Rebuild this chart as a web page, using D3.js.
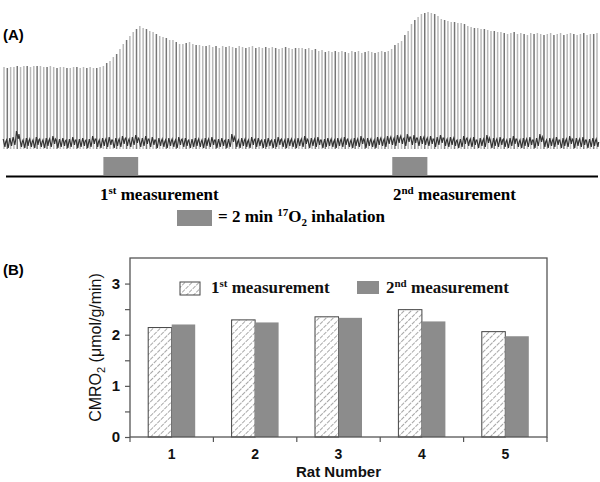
<!DOCTYPE html>
<html><head><meta charset="utf-8">
<script src="https://cdn.jsdelivr.net/npm/d3@7"></script>
<style>body{margin:0;background:#fff}svg{display:block}</style>
</head><body>
<script>
// ---------- Panel A data ----------
const peaks = [
81,80,81,81,82,81,82,82,81,82, 82,82,81,81,82,81,80,81,81,80,
80,81,81,80,81,80,81,80,80,81, 82,85,87,91,94,99,104,108,112,116,
119,122,120,119,117,116,114,112,111,110, 108,108,106,104,104,105,106,104,103,103,
102,102,103,101,102,100,102,101,102,101, 100,102,101,100,101,102,100,101,100,101,
100,101,100,99,100,101,100,99,100,100, 100,99,100,98,99,97,98,96,97,96,
97,96,97,96,95,97,96,97,95,96, 97,96,95,96,97,96,97,99,103,105,
107,113,117,124,128,131,134,135,136,135, 134,132,129,128,127,126,126,125,125,124,
122,121,120,120,119,119,118,117,117,116, 116,115,114,115,116,114,115,114,113,115,
114,115,114,113,114,115,113,114,115,113, 114,115,114,113,114,115,113,114,114,115];
const notch = [
9,8,10,11,17,9,8,10,9,8, 11,9,8,10,9,12,8,9,10,8,
9,11,8,9,10,8,9,12,9,8, 10,9,11,8,10,9,12,10,9,11,
13,9,10,12,9,11,8,10,9,8, 10,9,8,11,9,10,8,9,10,9,
8,10,9,11,8,9,10,8,9,14, 9,8,10,9,8,11,9,10,8,9,
10,8,9,11,9,8,10,9,8,10, 9,12,8,10,9,11,8,9,10,9,
8,10,9,11,9,8,10,9,12,8, 10,9,8,11,10,9,12,11,10,13,
12,10,14,11,13,10,12,11,10,12, 9,11,13,10,9,11,10,8,9,12,
10,9,11,8,10,9,13,8,10,9, 11,9,8,10,12,9,8,10,9,11,
8,10,14,9,8,10,9,11,8,10, 9,12,8,10,9,11,8,9,10,9];
const inhalations = [[30, 40.5], [117.2, 127.8]];
const measureLabels = [["1", "st"], ["2", "nd"]];

// ---------- Panel B data ----------
const rats = ["1", "2", "3", "4", "5"];
const first = [2.14, 2.29, 2.35, 2.49, 2.06];
const second = [2.20, 2.24, 2.33, 2.26, 1.97];
const yTicks = [0, 0.5, 1, 1.5, 2, 2.5, 3];

const W = 600, H = 482;
const svg = d3.select("body").append("svg").attr("width", W).attr("height", H);

const defs = svg.append("defs");
const pat = defs.append("pattern").attr("id", "hatch").attr("patternUnits", "userSpaceOnUse")
  .attr("width", 5).attr("height", 5).attr("patternTransform", "rotate(45)");
pat.append("rect").attr("width", 5).attr("height", 5).attr("fill", "#fff");
pat.append("line").attr("x1", 0).attr("y1", 0).attr("x2", 0).attr("y2", 5)
  .attr("stroke", "#7a7a7a").attr("stroke-width", 1.3).attr("stroke-dasharray", "3,1");

const sans = "Liberation Sans, Arial, sans-serif";
const serif = "Liberation Serif, Times New Roman, serif";

// ---------- Panel A ----------
svg.append("text").attr("x", 3).attr("y", 40).attr("font-family", sans).attr("font-weight", "bold")
  .attr("font-size", 15).text("(A)");

const xA = d3.scaleLinear().domain([0, peaks.length - 1]).range([4, 597]);
const yA = d3.scaleLinear().domain([0, 140]).range([148, 8]);

const gA = svg.append("g");
gA.selectAll("line.beat").data(peaks).join("line").attr("class", "beat")
  .attr("x1", (d, i) => xA(i)).attr("x2", (d, i) => xA(i))
  .attr("y1", yA(-1)).attr("y2", d => yA(d))
  .attr("stroke", (d, i) => i % 3 === 1 ? "#767676" : "#b9b9b9")
  .attr("stroke-width", 1.5);

const pts = [];
notch.forEach((v, i) => {
  pts.push([xA(i) - 0.8, yA(v)]);
  pts.push([xA(i) + 0.9, yA(v - 8)]);
  pts.push([xA(i) + 1.7, yA(v - 3)]);
});
gA.append("path").attr("d", d3.line()(pts)).attr("fill", "none")
  .attr("stroke", "#333").attr("stroke-width", 1.2);

gA.selectAll("rect.inh").data(inhalations).join("rect").attr("class", "inh")
  .attr("x", d => xA(d[0])).attr("width", d => xA(d[1]) - xA(d[0]))
  .attr("y", 157).attr("height", 18).attr("fill", "#8c8c8c");

gA.append("line").attr("x1", 6).attr("x2", 598).attr("y1", 176.5).attr("y2", 176.5)
  .attr("stroke", "#000").attr("stroke-width", 2);

const labX = [100, 393];
measureLabels.forEach((m, k) => {
  const t = gA.append("text").attr("x", labX[k]).attr("y", 200).attr("font-family", serif)
    .attr("font-weight", "bold").attr("font-size", 17);
  t.append("tspan").text(m[0]);
  t.append("tspan").attr("font-size", 11).attr("dy", -6).text(m[1]);
  t.append("tspan").attr("dy", 6).text(" measurement");
});

gA.append("rect").attr("x", 177).attr("y", 210).attr("width", 35).attr("height", 16).attr("fill", "#8c8c8c");
const lt = gA.append("text").attr("x", 218).attr("y", 222).attr("font-family", serif)
  .attr("font-weight", "bold").attr("font-size", 17);
lt.append("tspan").text("= 2 min ");
lt.append("tspan").attr("font-size", 11).attr("dy", -6).text("17");
lt.append("tspan").attr("dy", 6).text("O");
lt.append("tspan").attr("font-size", 11).attr("dy", 4).text("2");
lt.append("tspan").attr("dy", -4).text(" inhalation");

// ---------- Panel B ----------
svg.append("text").attr("x", 3).attr("y", 275).attr("font-family", sans).attr("font-weight", "bold")
  .attr("font-size", 15).text("(B)");

const L = 130, R = 547, T = 258, B = 437;
const xB = d3.scaleBand().domain(rats).range([L, R]);
const yB = d3.scaleLinear().domain([0, 3.5]).range([B, T]);
const bw = 23.5;

const gB = svg.append("g");
gB.selectAll("rect.first").data(first).join("rect").attr("class", "first")
  .attr("x", (d, i) => xB(rats[i]) + xB.bandwidth() / 2 - bw).attr("width", bw)
  .attr("y", d => yB(d)).attr("height", d => B - yB(d))
  .attr("fill", "url(#hatch)").attr("stroke", "#444").attr("stroke-width", 1);
gB.selectAll("rect.second").data(second).join("rect").attr("class", "second")
  .attr("x", (d, i) => xB(rats[i]) + xB.bandwidth() / 2).attr("width", bw)
  .attr("y", d => yB(d)).attr("height", d => B - yB(d))
  .attr("fill", "#8c8c8c");

gB.append("rect").attr("x", L).attr("y", T).attr("width", R - L).attr("height", B - T)
  .attr("fill", "none").attr("stroke", "#555").attr("stroke-width", 1.3);

const yAxis = gB.append("g").attr("transform", `translate(${L},0)`)
  .call(d3.axisLeft(yB).tickValues(yTicks).tickFormat(d => Number.isInteger(d) ? d : "").tickSize(5).tickPadding(5));
yAxis.select(".domain").remove();
yAxis.selectAll("line").attr("stroke", "#555").attr("stroke-width", 1.2);
yAxis.selectAll("text").attr("font-family", sans).attr("font-weight", "bold").attr("font-size", 15).attr("fill", "#111");

// x ticks at band boundaries
const bounds = rats.map(r => xB(r)).concat([R]);
gB.selectAll("line.xt").data(bounds).join("line").attr("class", "xt")
  .attr("x1", d => d).attr("x2", d => d).attr("y1", B).attr("y2", B + 5)
  .attr("stroke", "#555").attr("stroke-width", 1.2);
gB.selectAll("text.xl").data(rats).join("text").attr("class", "xl")
  .attr("x", d => xB(d) + xB.bandwidth() / 2).attr("y", 459).attr("text-anchor", "middle")
  .attr("font-family", sans).attr("font-weight", "bold").attr("font-size", 14).attr("fill", "#111").text(d => d);

gB.append("text").attr("x", (L + R) / 2).attr("y", 477).attr("text-anchor", "middle")
  .attr("font-family", sans).attr("font-weight", "bold").attr("font-size", 15).attr("fill", "#111").text("Rat Number");

const yl = gB.append("text").attr("transform", `translate(101,${(T + B) / 2}) rotate(-90)`)
  .attr("text-anchor", "middle").attr("font-family", sans).attr("font-size", 16).attr("fill", "#111");
yl.append("tspan").text("CMRO");
yl.append("tspan").attr("font-size", 11).attr("dy", 4).text("2");
yl.append("tspan").attr("dy", -4).text(" (μmol/g/min)");

// legend
gB.append("rect").attr("x", 180).attr("y", 282).attr("width", 20).attr("height", 13)
  .attr("fill", "url(#hatch)").attr("stroke", "#444").attr("stroke-width", 1);
gB.append("rect").attr("x", 357).attr("y", 281).attr("width", 22).attr("height", 13).attr("fill", "#8c8c8c");
[[211, "1", "st"], [386, "2", "nd"]].forEach(l => {
  const t = gB.append("text").attr("x", l[0]).attr("y", 293).attr("font-family", serif)
    .attr("font-weight", "bold").attr("font-size", 17).attr("fill", "#111");
  t.append("tspan").text(l[1]);
  t.append("tspan").attr("font-size", 11).attr("dy", -6).text(l[2]);
  t.append("tspan").attr("dy", 6).text(" measurement");
});
</script>
</body></html>
